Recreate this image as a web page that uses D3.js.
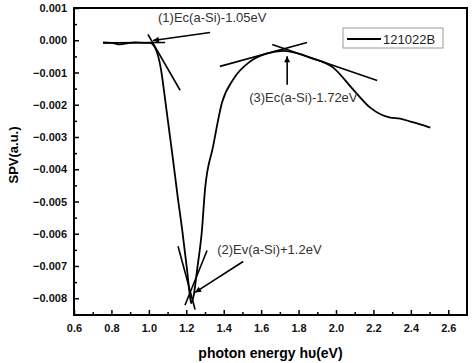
<!DOCTYPE html>
<html>
<head>
<meta charset="utf-8">
<script src="https://cdn.jsdelivr.net/npm/d3@7"></script>
<style>
  html, body { margin: 0; padding: 0; background: #fff; }
  svg { display: block; font-family: "Liberation Sans", Arial, sans-serif; }
</style>
</head>
<body>
<svg id="chart" width="474" height="363"></svg>
<script>
// measured curve, photon energy (eV) vs SPV (a.u.)
var photonEnergy = [0.755, 0.80, 0.846, 0.89, 0.926, 0.97, 1.006, 1.033, 1.065, 1.087, 1.108, 1.129, 1.156, 1.178, 1.204, 1.220, 1.226,
	1.240, 1.258, 1.284, 1.300, 1.343, 1.391, 1.450, 1.541, 1.632, 1.718, 1.790, 1.862, 1.985, 2.092, 2.183, 2.290, 2.343, 2.397, 2.450, 2.504];
var spv = [-0.00007, -0.00008, -0.00013, -0.00009, -0.00007, -0.00008, -0.00008, -0.00023, -0.00091, -0.00184, -0.00277, -0.00370, -0.00494, -0.00587, -0.00711, -0.00795, -0.00815,
	-0.00790, -0.00711, -0.00587, -0.00463, -0.00330, -0.00193, -0.00122, -0.00066, -0.00041, -0.00033, -0.00040, -0.00054, -0.00085, -0.00153, -0.00209, -0.00240, -0.00243, -0.00252, -0.00261, -0.00271];

var seriesName = "121022B";

// tangent lines [x1, y1, x2, y2]
var tangents = [
	[0.755, -0.00008, 1.087, -0.00007],
	[0.995, 0.00018, 1.167, -0.00155],
	[1.156, -0.00639, 1.247, -0.00835],
	[1.311, -0.00652, 1.193, -0.00822],
	[1.380, -0.00081, 1.845, -0.00007],
	[1.659, -0.00013, 2.220, -0.00125]
];

// annotations: text, label x/y, arrow from x/y, arrow tip x/y
var noteText = ["(1)Ec(a-Si)-1.05eV", "(2)Ev(a-Si)+1.2eV", "(3)Ec(a-Si)-1.72eV"];
var noteAt = [[1.049, 0.00070], [1.365, -0.00649], [1.536, -0.00178]];
var arrowFrom = [[1.327, 0.00024], [1.504, -0.00686], [1.739, -0.00138]];
var arrowTo = [[1.022, -0.00001], [1.247, -0.00782], [1.739, -0.00050]];

var xTicks = [0.6, 0.8, 1.0, 1.2, 1.4, 1.6, 1.8, 2.0, 2.2, 2.4, 2.6];
var yTicks = [0.001, 0.000, -0.001, -0.002, -0.003, -0.004, -0.005, -0.006, -0.007, -0.008];

var margin = {left: 74, top: 8, right: 7, bottom: 48};
var width = 474 - margin.left - margin.right,
	height = 363 - margin.top - margin.bottom;

var svg = d3.select("#chart");
var g = svg.append("g").attr("transform", "translate(" + margin.left + "," + margin.top + ")");

var x = d3.scaleLinear().domain([0.6, 2.7]).range([0, width]);
var y = d3.scaleLinear().domain([-0.00852, 0.001]).range([height, 0]);

// axes, ticks pointing inward
var xMinor = d3.range(0.7, 2.7, 0.2);
var yMinor = d3.range(0.0005, -0.0085, -0.001);

g.append("g").attr("transform", "translate(0," + height + ")")
	.call(d3.axisBottom(x).tickValues(xTicks).tickSize(-5).tickPadding(9).tickFormat(d3.format(".1f")));
g.append("g").attr("transform", "translate(0," + height + ")")
	.call(d3.axisBottom(x).tickValues(xMinor).tickSize(-3).tickFormat(""));

g.append("g")
	.call(d3.axisLeft(y).tickValues(yTicks).tickSize(-5).tickPadding(7).tickFormat(d3.format(".3f")));
g.append("g")
	.call(d3.axisLeft(y).tickValues(yMinor).tickSize(-3).tickFormat(""));

g.selectAll(".domain").remove();
g.selectAll(".tick line").attr("stroke", "#000").attr("stroke-width", 1.5);
g.selectAll(".tick text").attr("fill", "#111").style("font-size", "11px").style("font-weight", "bold");

g.append("rect")
	.attr("width", width).attr("height", height)
	.attr("fill", "none").attr("stroke", "#000").attr("stroke-width", 2);

// curve
var data = photonEnergy.map(function(d, i) { return {x: d, y: spv[i]}; });
var line = d3.line()
	.x(function(d) { return x(d.x); })
	.y(function(d) { return y(d.y); })
	.curve(d3.curveMonotoneX);

g.append("path").datum(data)
	.attr("d", line)
	.attr("fill", "none").attr("stroke", "#000").attr("stroke-width", 1.8);

// tangent lines
g.selectAll(".tangent").data(tangents).enter().append("line")
	.attr("class", "tangent")
	.attr("x1", function(d) { return x(d[0]); })
	.attr("y1", function(d) { return y(d[1]); })
	.attr("x2", function(d) { return x(d[2]); })
	.attr("y2", function(d) { return y(d[3]); })
	.attr("stroke", "#000").attr("stroke-width", 1.6);

// arrows
svg.append("defs").append("marker")
	.attr("id", "head")
	.attr("viewBox", "0 0 10 10")
	.attr("refX", 10).attr("refY", 5)
	.attr("markerWidth", 12).attr("markerHeight", 6)
	.attr("markerUnits", "userSpaceOnUse")
	.attr("orient", "auto")
	.append("path").attr("d", "M0,0L10,5L0,10Z").attr("fill", "#000");

g.selectAll(".arrow").data(arrowFrom).enter().append("line")
	.attr("class", "arrow")
	.attr("x1", function(d) { return x(d[0]); })
	.attr("y1", function(d) { return y(d[1]); })
	.attr("x2", function(d, i) { return x(arrowTo[i][0]); })
	.attr("y2", function(d, i) { return y(arrowTo[i][1]); })
	.attr("stroke", "#000").attr("stroke-width", 1.6)
	.attr("marker-end", "url(#head)");

g.selectAll(".note").data(noteText).enter().append("text")
	.attr("class", "note")
	.attr("x", function(d, i) { return x(noteAt[i][0]); })
	.attr("y", function(d, i) { return y(noteAt[i][1]); })
	.attr("dy", "0.35em")
	.attr("fill", "#333")
	.style("font-size", "13px")
	.text(function(d) { return d; });

// legend
var legend = svg.append("g").attr("transform", "translate(343,28)");
legend.append("rect").attr("width", 100).attr("height", 20)
	.attr("fill", "#fff").attr("stroke", "#999").attr("stroke-width", 1);
legend.append("line").attr("x1", 4).attr("x2", 38).attr("y1", 11).attr("y2", 11)
	.attr("stroke", "#000").attr("stroke-width", 1.8);
legend.append("text").attr("x", 40).attr("y", 11).attr("dy", "0.35em")
	.attr("fill", "#222").style("font-size", "13px").text(seriesName);

// axis titles
svg.append("text")
	.attr("x", margin.left + x(1.65)).attr("y", 353).attr("dy", "0.35em")
	.attr("text-anchor", "middle")
	.style("font-size", "14px").style("font-weight", "bold")
	.text("photon energy h\u03c5(eV)");

svg.append("text")
	.attr("transform", "translate(13,155) rotate(-90)")
	.attr("dy", "0.35em")
	.attr("text-anchor", "middle")
	.style("font-size", "13px").style("font-weight", "bold")
	.text("SPV(a.u.)");
</script>
</body>
</html>
